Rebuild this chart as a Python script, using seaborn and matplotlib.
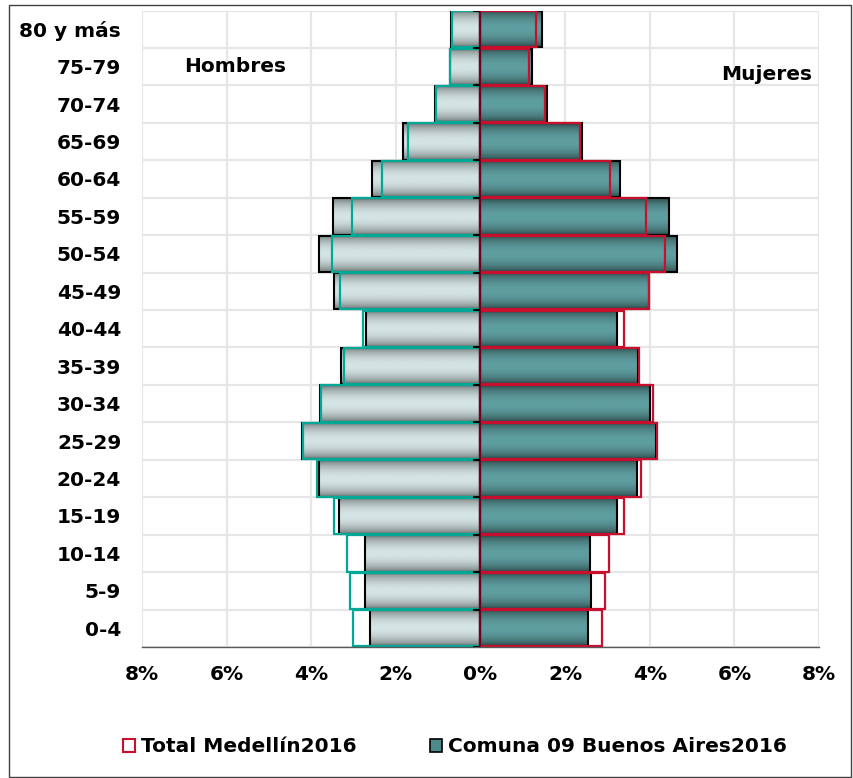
import numpy as np
import pandas as pd
import matplotlib
matplotlib.use("Agg")
import matplotlib.pyplot as plt
import seaborn as sns
from matplotlib.colors import LinearSegmentedColormap
from matplotlib.patches import Patch, Rectangle

# age groups, top to bottom
ages = ["80 y más", "75-79", "70-74", "65-69", "60-64", "55-59", "50-54",
        "45-49", "40-44", "35-39", "30-34", "25-29", "20-24", "15-19",
        "10-14", "5-9", "0-4"]

# Comuna 09 Buenos Aires 2016 (% of population)
comuna_hombres = [0.70, 0.73, 1.07, 1.83, 2.57, 3.48, 3.82, 3.46, 2.70,
                  3.30, 3.79, 4.22, 3.82, 3.34, 2.72, 2.72, 2.62]
comuna_mujeres = [1.45, 1.22, 1.58, 2.40, 3.29, 4.46, 4.65, 3.99, 3.23,
                  3.72, 4.01, 4.14, 3.70, 3.22, 2.58, 2.61, 2.53]

# Total Medellín 2016 (% of population)
total_hombres = [0.68, 0.71, 1.06, 1.72, 2.32, 3.04, 3.52, 3.31, 2.77,
                 3.23, 3.78, 4.19, 3.86, 3.47, 3.16, 3.08, 3.01]
total_mujeres = [1.30, 1.15, 1.53, 2.34, 3.06, 3.90, 4.35, 3.98, 3.38,
                 3.75, 4.08, 4.17, 3.80, 3.38, 3.04, 2.95, 2.88]

xticks = [-8, -6, -4, -2, 0, 2, 4, 6, 8]

TEAL = "#00a995"
CRIMSON = "#c8102e"
GRID = "#e6e6e6"

sns.set_style("white")
plt.rcParams["font.family"] = ["DejaVu Sans"]
plt.rcParams["font.weight"] = "bold"
plt.rcParams["text.color"] = "black"
plt.rcParams["xtick.labelcolor"] = "black"
plt.rcParams["ytick.labelcolor"] = "black"

W, H = 854, 778
fig = plt.figure(figsize=(W / 100, H / 100), dpi=100)
ax = fig.add_axes([142 / W, 1 - 647 / H, (819 - 142) / W, (647 - 10.5) / H])

df = pd.DataFrame({"edad": ages,
                   "ch": [-v for v in comuna_hombres], "cm": comuna_mujeres,
                   "th": [-v for v in total_hombres], "tm": total_mujeres})

men_cmap = LinearSegmentedColormap.from_list("m", ["#6a7070", "#d4e3e3"])
wom_cmap = LinearSegmentedColormap.from_list("w", ["#2a4647", "#5f9ea0"])


def filled(col, cmap):
    n0 = len(ax.patches)
    sns.barplot(data=df, x=col, y="edad", order=ages, orient="h", color="white",
                edgecolor="black", linewidth=1.5, width=0.97, saturation=1,
                errorbar=None, ax=ax, zorder=3)
    t = np.linspace(0, 1, 64)
    grad = (np.sin(np.pi * t) ** 0.7)[:, None]
    for p in ax.patches[n0:]:
        x0, y0 = p.get_x(), p.get_y()
        w, h = p.get_width(), p.get_height()
        im = ax.imshow(grad, cmap=cmap, vmin=0, vmax=1, aspect="auto",
                       extent=(x0, x0 + w, y0 + h, y0), zorder=2.5,
                       interpolation="bilinear")
        im.set_clip_path(p)
        p.set_facecolor("none")


def outline(col, color):
    sns.barplot(data=df, x=col, y="edad", order=ages, orient="h", color=color,
                fill=False, linewidth=1.6, width=0.97, saturation=1,
                errorbar=None, ax=ax, zorder=4)


filled("ch", men_cmap)
filled("cm", wom_cmap)
outline("th", TEAL)
outline("tm", CRIMSON)

ax.set_xlim(-8, 8)
ax.set_ylim(len(ages) - 0.5, -0.5)

# grid
for x in xticks:
    ax.axvline(x, color=GRID, lw=1.6, zorder=0)
for k in range(len(ages) + 1):
    ax.axhline(k - 0.5, color=GRID, lw=1.6, zorder=0)

# central axis with short ticks
ax.axvline(0, color="#6e0020", lw=1.5, zorder=5)
ax.hlines([k - 0.5 for k in range(len(ages) + 1)], -0.17, 0, color="black",
          lw=1.5, zorder=5)

ax.set_xticks(xticks)
ax.set_xticklabels([f"{abs(v)}%" for v in xticks], fontsize=14.5,
                   fontweight="bold", color="black")
ax.tick_params(axis="x", length=5, width=1, color="#595959", direction="out",
               pad=8, labelcolor="black")
ax.tick_params(axis="y", length=0, pad=15, labelsize=14.5, labelcolor="black")
for lab in ax.get_yticklabels():
    lab.set_fontweight("bold")
ax.set_xlabel("")
ax.set_ylabel("")
for s in ["left", "right", "top"]:
    ax.spines[s].set_visible(False)
ax.spines["bottom"].set_color("#595959")
ax.spines["bottom"].set_linewidth(1)
ax.spines["bottom"].set_zorder(6)

ax.text(-7.0, 1.0, "Hombres", ha="left", va="center", fontsize=14.5,
        fontweight="bold", color="black", zorder=6)
ax.text(7.84, 1.21, "Mujeres", ha="right", va="center", fontsize=14.5,
        fontweight="bold", color="black", zorder=6)

handles = [Patch(facecolor="white", edgecolor=CRIMSON, linewidth=1.5),
           Patch(facecolor="#4d8a8c", edgecolor="black", linewidth=1.2)]
leg = fig.legend(handles, ["Total Medellín2016", "Comuna 09 Buenos Aires2016"],
                 loc="center", bbox_to_anchor=(455 / W, 1 - 747 / H), ncol=2,
                 frameon=False, handlelength=0.6, handleheight=0.6,
                 handletextpad=0.3, columnspacing=3.6,
                 prop={"weight": "bold", "size": 14.5})
for txt in leg.get_texts():
    txt.set_color("black")

fig.patches.append(Rectangle((9.5 / W, 1.5 / H), (851 - 9.5) / W, (773 - 1.5) / H,
                             transform=fig.transFigure, fill=False,
                             edgecolor="#404040", lw=1))

fig.savefig("out.png", dpi=100)
